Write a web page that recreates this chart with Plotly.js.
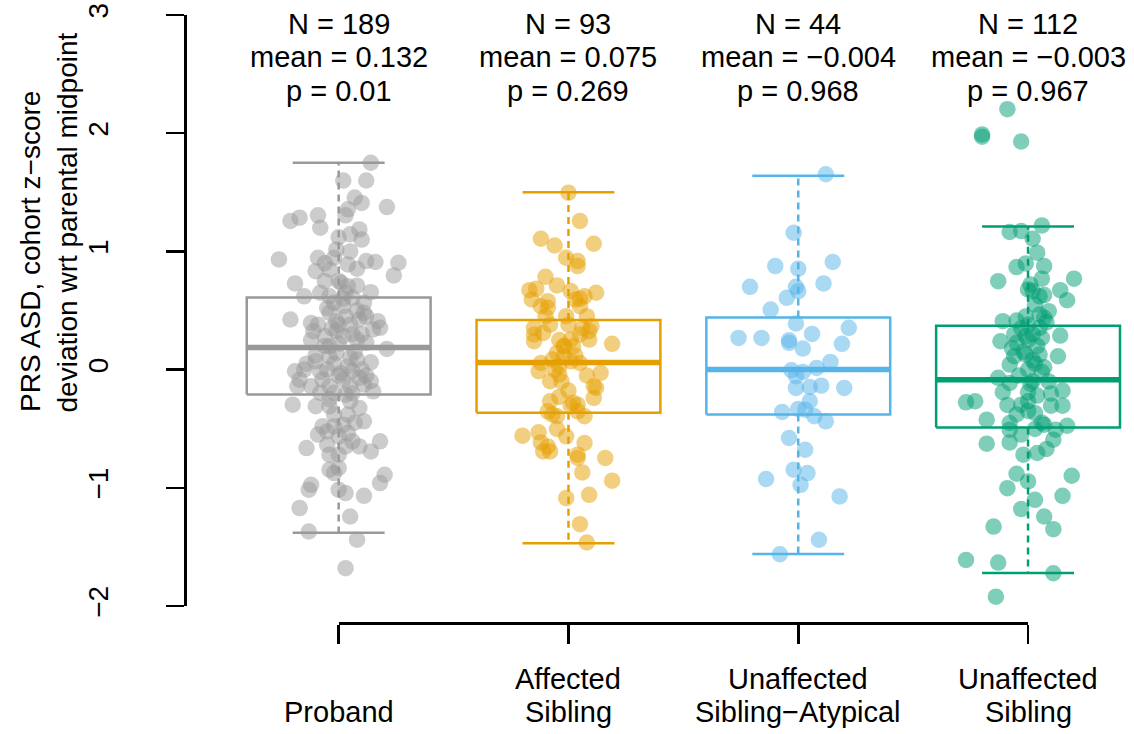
<!DOCTYPE html>
<html><head><meta charset="utf-8">
<script src="https://cdn.plot.ly/plotly-3.0.1.min.js"></script>
<style>html,body{margin:0;padding:0;background:#fff}#chart{width:1134px;height:734px}</style>
</head><body><div id="chart"></div>
<script>
// ---------- data ----------
const catLine1 = ["", "Affected", "Unaffected", "Unaffected"];
const catLine2 = ["Proband", "Sibling", "Sibling\u2212Atypical", "Sibling"];
const groupColors = ["#999999", "#E69F00", "#56B4E9", "#009E73"];
const pointColors = ["rgba(153,153,153,0.5)", "rgba(230,159,0,0.5)", "rgba(86,180,233,0.5)", "rgba(0,158,115,0.5)"];
const nValues = ["189", "93", "44", "112"];
const meanLabels = ["0.132", "0.075", "\u22120.004", "\u22120.003"];
const pLabels = ["0.01", "0.269", "0.968", "0.967"];

const q1 = [-0.21, -0.365, -0.38, -0.49];
const medians = [0.186, 0.06, 0.0, -0.085];
const q3 = [0.61, 0.42, 0.44, 0.37];
const lowerWhisker = [-1.38, -1.47, -1.56, -1.72];
const upperWhisker = [1.75, 1.5, 1.64, 1.21];

const yTickVals = [-2, -1, 0, 1, 2, 3];
const yTickText = ["\u22122", "\u22121", "0", "1", "2", "3"];

const probandY = [1.75,1.60,1.60,1.455,1.41,1.356,1.375,1.305,1.257,1.285,1.305,1.20,1.186,1.144,1.10,1.12,1.017,0.946,0.932,0.946,0.89,0.853,0.918,0.91,0.904,0.797,0.833,0.847,0.729,0.748,0.735,0.706,0.71,0.62,0.65,0.62,0.65,0.655,0.607,0.565,0.565,0.536,0.48,0.48,0.424,0.41,0.395,0.38,0.41,0.38,0.424,0.34,0.353,0.325,0.325,0.282,0.282,0.254,0.226,0.197,0.175,0.141,0.113,0.07,0.085,0.062,0.028,-0.014,0.0,0.0,-0.028,-0.014,-0.07,-0.085,-0.085,-0.085,-0.099,-0.141,-0.141,-0.141,-0.141,-0.127,-0.184,-0.197,-0.197,-0.212,-0.297,-0.31,-0.31,-0.268,-0.325,-0.381,-0.438,-0.48,-0.48,-0.466,-0.523,-0.537,-0.565,-0.664,-0.636,-0.607,-0.65,-0.692,-0.607,-0.72,-0.72,-0.847,-0.876,-0.833,-0.89,-0.96,-0.975,-1.017,-1.017,-1.045,-1.068,-1.172,-1.243,-1.37,-1.44,-1.68,
  0.45,0.35,0.3,0.2,0.22,0.15,0.05,0.1,-0.02,0.0,-0.05,-0.25,-0.2,-0.05,0.12,0.6,0.52,0.5,0.75,-0.38,-0.45,-0.55,0.3,0.25,-0.65,0.9,1.0,0.45,0.05,0.38];
const probandJitter = [0.14,0.02,0.12,0.07,0.10,0.04,0.21,0.03,-0.21,-0.17,-0.09,-0.08,0.09,0.05,0.10,0.00,-0.01,-0.02,-0.26,-0.09,0.04,0.08,0.12,0.16,0.26,0.24,-0.10,-0.04,-0.19,-0.06,0.01,0.04,0.08,-0.15,-0.08,-0.04,0.03,0.14,0.06,0.11,-0.02,0.02,0.11,-0.04,-0.21,0.17,-0.12,-0.09,-0.01,0.05,0.09,0.15,0.18,-0.01,-0.11,-0.06,0.02,0.08,0.12,-0.04,0.21,-0.01,-0.04,-0.10,0.08,0.14,0.04,-0.19,-0.15,-0.05,0.01,0.06,0.09,-0.17,-0.07,0.02,0.14,-0.18,-0.12,-0.04,0.05,0.11,0.15,-0.08,-0.02,0.03,-0.20,-0.10,-0.04,0.05,0.09,0.04,0.11,-0.07,-0.02,0.02,-0.05,0.04,0.00,-0.14,-0.05,0.06,0.09,0.14,0.18,-0.04,0.00,-0.04,-0.02,0.00,0.20,0.18,-0.12,-0.13,0.00,0.03,0.11,-0.17,0.05,-0.13,0.08,0.03,
  0.03,-0.03,0.06,-0.06,0.0,0.07,-0.02,0.05,-0.08,0.10,0.0,-0.04,0.06,0.12,-0.10,0.02,-0.05,0.08,0.0,-0.02,0.07,-0.09,0.10,-0.12,0.03,-0.06,0.05,0.12,-0.14,0.0];

const affectedY = [1.497,1.257,1.107,1.05,1.065,0.946,0.918,0.876,0.785,0.672,0.684,0.712,0.664,0.65,0.62,0.593,0.579,0.536,0.523,0.593,0.536,0.452,0.452,0.367,0.381,0.353,0.297,0.31,0.24,0.325,0.254,0.254,0.297,0.218,0.197,0.197,0.141,0.085,0.113,0.07,0.056,0.056,0.028,-0.014,-0.028,-0.042,-0.099,-0.141,-0.155,-0.178,-0.231,-0.268,-0.24,-0.297,-0.31,-0.353,-0.353,-0.395,-0.395,-0.503,-0.559,-0.531,-0.565,-0.616,-0.65,-0.692,-0.692,-0.621,-0.72,-0.748,-0.748,-0.87,-0.94,-1.06,-1.087,-1.308,-1.463,
  0.2,0.12,0.0,0.35,-0.1,-0.05,0.38,0.45,-0.28,-0.38,0.6,0.25];
const affectedJitter = [0.00,0.05,-0.12,-0.06,0.11,-0.01,0.04,0.04,-0.10,-0.17,-0.14,-0.05,0.01,0.12,0.07,-0.16,-0.09,-0.12,-0.09,0.03,0.05,0.08,-0.01,0.10,-0.08,-0.15,-0.15,-0.11,-0.15,0.09,0.09,0.01,0.05,0.19,-0.02,0.02,-0.05,-0.07,-0.02,0.01,0.05,-0.12,-0.04,-0.13,0.14,-0.04,-0.08,0.11,0.12,0.00,-0.04,-0.08,0.11,0.04,0.01,-0.09,0.04,0.07,-0.05,-0.05,-0.20,-0.13,-0.01,-0.12,-0.09,-0.11,-0.08,0.07,0.04,0.04,0.16,0.06,0.19,0.09,-0.01,0.05,0.08,
  -0.02,0.03,-0.06,0.06,-0.03,0.08,0.0,-0.10,0.02,-0.07,0.05,-0.04];

const atypicalY = [1.653,1.158,0.876,0.853,0.91,0.70,0.70,0.729,0.664,0.607,0.508,0.39,0.353,0.268,0.268,0.248,0.226,0.302,0.178,0.218,0.065,0.014,-0.006,-0.056,-0.155,-0.147,-0.136,-0.155,-0.268,-0.339,-0.333,-0.358,-0.395,-0.438,-0.579,-0.678,-0.847,-0.876,-0.926,-0.975,-1.073,-1.44,-1.562,-0.02];
const atypicalJitter = [0.12,-0.02,-0.10,0.00,0.15,-0.21,-0.01,0.11,0.00,-0.05,-0.12,-0.01,0.22,-0.26,-0.16,-0.04,-0.04,0.06,0.02,0.19,0.14,0.08,-0.03,-0.01,-0.01,0.05,0.10,0.20,0.05,0.03,0.00,-0.07,0.07,0.12,-0.04,0.03,-0.02,0.04,-0.14,0.01,0.18,0.09,-0.08,0.02];

const unaffectedY = [2.203,1.99,1.97,1.93,1.22,1.164,1.172,1.107,0.989,0.867,0.898,0.876,0.769,0.748,0.769,0.678,0.664,0.63,0.672,0.587,0.494,0.466,0.438,0.41,0.415,0.381,0.353,0.24,0.226,0.282,0.268,0.288,0.113,0.127,0.127,0.113,0.042,0.0,-0.07,-0.113,-0.099,-0.192,-0.192,-0.277,-0.268,-0.268,-0.178,-0.203,-0.297,-0.305,-0.305,-0.367,-0.424,-0.452,-0.508,-0.503,-0.466,-0.508,-0.475,-0.593,-0.627,-0.616,-0.72,-0.706,-0.672,-0.881,-0.946,-0.898,-1.003,-1.102,-1.068,-1.18,-1.243,-1.35,-1.328,-1.61,-1.633,-1.723,-1.921,
  0.3,0.35,0.2,0.15,0.05,-0.02,-0.05,-0.12,-0.22,0.3,0.4,0.45,0.55,-0.35,-0.38,-0.45,0.08,0.18,0.62,-0.55,0.02,0.25,-0.1,-0.3,0.72];
const unaffectedJitter = [-0.09,-0.20,-0.20,-0.03,0.06,-0.08,-0.03,0.02,0.04,-0.05,-0.01,0.07,0.06,-0.13,0.20,0.00,0.02,0.07,0.14,0.17,0.09,0.05,0.07,-0.11,-0.05,0.00,0.05,-0.12,-0.05,-0.01,0.06,0.14,-0.06,-0.01,0.05,0.13,-0.08,0.00,-0.13,-0.08,0.02,-0.11,0.00,-0.27,-0.23,0.00,0.15,0.10,-0.03,0.10,0.15,0.03,-0.18,-0.08,-0.08,0.03,0.07,0.12,0.17,0.11,-0.18,-0.08,-0.02,0.04,0.08,-0.05,0.00,0.19,-0.09,0.03,0.15,-0.03,0.07,0.11,-0.15,-0.27,-0.13,0.11,-0.14,
  0.02,-0.03,0.04,-0.02,0.03,0.06,-0.04,0.01,0.04,-0.06,0.08,-0.01,0.03,0.0,-0.05,0.06,0.02,-0.07,0.05,-0.03,0.07,0.0,0.09,-0.09,0.01];

const groupY = [probandY, affectedY, atypicalY, unaffectedY];
const groupJitter = [probandJitter, affectedJitter, atypicalJitter, unaffectedJitter];

// ---------- traces ----------
const BOX_HALF = 0.4, CAP_HALF = 0.2;
const traces = [];
for (let i = 0; i < 4; i++) {
  const c = i + 1;
  traces.push({type:'scatter', mode:'lines', hoverinfo:'skip', showlegend:false,
    x:[c-BOX_HALF, c+BOX_HALF, c+BOX_HALF, c-BOX_HALF, c-BOX_HALF],
    y:[q1[i], q1[i], q3[i], q3[i], q1[i]],
    line:{color:groupColors[i], width:2.5}});
  traces.push({type:'scatter', mode:'lines', hoverinfo:'skip', showlegend:false,
    x:[c-BOX_HALF, c+BOX_HALF], y:[medians[i], medians[i]],
    line:{color:groupColors[i], width:5.5}});
  traces.push({type:'scatter', mode:'lines', hoverinfo:'skip', showlegend:false,
    x:[c, c, null, c, c], y:[q3[i], upperWhisker[i], null, q1[i], lowerWhisker[i]],
    line:{color:groupColors[i], width:2.5, dash:'7px,5px'}});
  traces.push({type:'scatter', mode:'lines', hoverinfo:'skip', showlegend:false,
    x:[c-CAP_HALF, c+CAP_HALF, null, c-CAP_HALF, c+CAP_HALF],
    y:[upperWhisker[i], upperWhisker[i], null, lowerWhisker[i], lowerWhisker[i]],
    line:{color:groupColors[i], width:2.5}});
}
for (let i = 0; i < 4; i++) {
  traces.push({type:'scatter', mode:'markers', hoverinfo:'y', showlegend:false,
    x: groupJitter[i].map(j => i + 1 + j), y: groupY[i],
    marker:{size:16.5, color:pointColors[i], line:{width:0}}});
}
traces.push({type:'scatter', mode:'markers', x:[], y:[], xaxis:'x2', yaxis:'y', showlegend:false, hoverinfo:'skip'});

// ---------- layout ----------
const FONT = "Liberation Sans, Arial, Helvetica, sans-serif";
const FS = 29;
const FS_Y = 28;
const xRange = [0.34, 4.461];
const span = xRange[1] - xRange[0];
const annotations = [];
const statY = [2.925, 2.645, 2.36];
for (let i = 0; i < 4; i++) {
  const lines = ["N = " + nValues[i], "mean = " + meanLabels[i], "p = " + pLabels[i]];
  lines.forEach((t, k) => annotations.push({text:t, xref:'x', yref:'y', x:i+1, y:statY[k],
    xanchor:'center', yanchor:'middle', showarrow:false, font:{family:FONT, size:FS, color:'#000'}}));
  if (catLine1[i]) annotations.push({text:catLine1[i], xref:'x', yref:'paper', x:i+1, y:0, yshift:-56,
    xanchor:'center', yanchor:'middle', showarrow:false, font:{family:FONT, size:FS, color:'#000'}});
  annotations.push({text:catLine2[i], xref:'x', yref:'paper', x:i+1, y:0, yshift:-89,
    xanchor:'center', yanchor:'middle', showarrow:false, font:{family:FONT, size:FS, color:'#000'}});
}
annotations.push({text:"PRS ASD, cohort z\u2212score", xref:'paper', yref:'paper', x:0, xshift:-156,
  y:0.343, yanchor:'bottom', xanchor:'center', textangle:-90, showarrow:false, font:{family:FONT, size:FS_Y, color:'#000'}});
annotations.push({text:"deviation wrt parental midpoint", xref:'paper', yref:'paper', x:0, xshift:-120,
  y:0.343, yanchor:'bottom', xanchor:'center', textangle:-90, showarrow:false, font:{family:FONT, size:FS_Y, color:'#000'}});

const layout = {
  width:1134, height:734,
  margin:{l:187, r:0, t:15, b:111, pad:0},
  paper_bgcolor:'#fff', plot_bgcolor:'rgba(0,0,0,0)',
  font:{family:FONT, size:FS, color:'#000'},
  showlegend:false,
  xaxis:{domain:[0,1], range:xRange, showgrid:false, zeroline:false, showline:false, ticks:'', showticklabels:false, fixedrange:true},
  xaxis2:{domain:[(1 - xRange[0]) / span, (4 - xRange[0]) / span], range:[1, 4], anchor:'free', position:0,
    showline:true, linecolor:'#000', linewidth:3, ticks:'outside', ticklen:19, tickwidth:2.5, tickcolor:'#000',
    tickvals:[1,2,3,4], showticklabels:false, showgrid:false, zeroline:false, fixedrange:true},
  yaxis:{domain:[0.028, 1], range:[-2, 3], anchor:'x', showline:true, linecolor:'#000', linewidth:3,
    ticks:'outside', ticklen:18, tickwidth:2.5, tickcolor:'#000', tickvals:yTickVals, ticktext:yTickText,
    tickangle:-90, ticklabelstandoff:47, tickfont:{family:FONT, size:FS_Y, color:'#000'},
    showgrid:false, zeroline:false, fixedrange:true},
  annotations: annotations
};
Plotly.newPlot('chart', traces, layout, {displayModeBar:false, staticPlot:true});
</script></body></html>
